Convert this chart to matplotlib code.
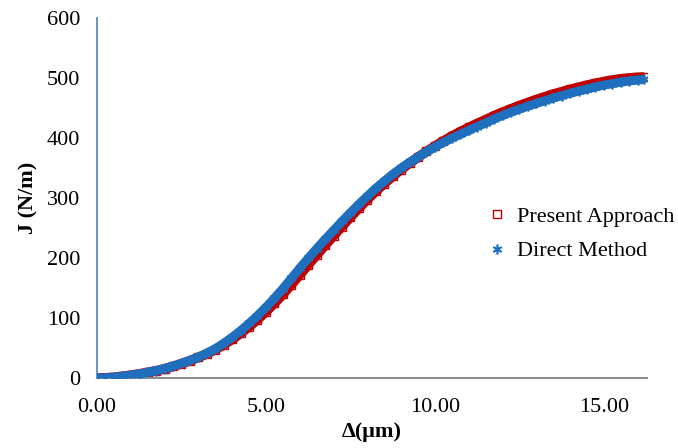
import matplotlib
matplotlib.use("Agg")
import matplotlib.pyplot as plt
import numpy as np

delta = [0.00, 0.25, 0.50, 0.75, 1.00, 1.25, 1.50, 1.75, 2.00, 2.25, 2.50, 2.75,
         3.00, 3.25, 3.50, 3.75, 4.00, 4.25, 4.50, 4.75, 5.00, 5.25, 5.50, 5.75,
         6.00, 6.25, 6.50, 6.75, 7.00, 7.25, 7.50, 7.75, 8.00, 8.25, 8.50, 8.75,
         9.00, 9.25, 9.50, 9.75, 10.00, 10.25, 10.50, 10.75, 11.00, 11.25, 11.50, 11.75,
         12.00, 12.25, 12.50, 12.75, 13.00, 13.25, 13.50, 13.75, 14.00, 14.25, 14.50, 14.75,
         15.00, 15.25, 15.50, 15.75, 16.00, 16.20]

j_present = [0, 0.4, 1.3, 2.8, 4.8, 7, 9.5, 12.3, 15.5, 19.5, 24, 29,
             34.5, 40.5, 47.5, 55.5, 64.5, 74.5, 85.5, 97.5, 110.5, 124.5, 139.5, 155.5,
             172, 188.5, 205, 221, 237, 252.5, 268, 283, 297.5, 311, 324, 336,
             347.5, 358, 368, 377.5, 386.5, 395, 403, 410.5, 417.5, 424, 430.5, 437,
             443, 448.5, 454, 459, 464, 468.5, 473, 477, 481, 484.5, 488, 491,
             494, 496.5, 498.5, 500, 501, 501.5]

j_direct = [0, 0.4, 1.3, 2.8, 4.8, 7, 9.5, 12.5, 16, 20, 24.5, 29.5,
            35, 41.5, 49, 58, 68, 79, 91, 104, 118, 133, 149, 166,
            183, 199.5, 215.5, 231, 246, 261, 275.5, 289.5, 303, 316, 328, 339.5,
            350, 359.5, 368.5, 377, 385, 392.5, 399.5, 406, 412.5, 419, 425, 431.5,
            437.5, 443, 448, 453, 457.5, 462, 466.5, 470.5, 474.5, 478, 481.5, 485,
            488, 490.5, 493, 495, 496.5, 497.5]

x_ticks = [0, 5, 10, 15]
x_tick_labels = ["0.00", "5.00", "10.00", "15.00"]
y_ticks = [0, 100, 200, 300, 400, 500, 600]

plt.rcParams['font.family'] = ['Liberation Serif', 'DejaVu Serif']

fig = plt.figure(figsize=(6.78, 4.48), dpi=100)
ax = fig.add_axes([0.143, 0.156, 0.811, 0.804])

red = '#C00000'
blue = '#1F6FBF'

ax.plot(delta, j_present, color=red, lw=7, solid_capstyle='butt', zorder=2)
ax.plot(delta, j_present, ls='none', marker='s', ms=6, mfc='none', mec=red, mew=1,
        zorder=2, label='Present Approach')
ax.plot(delta, j_direct, color=blue, lw=6.5, solid_capstyle='butt', zorder=3)
ax.plot(delta, j_direct, ls='none', marker=(6, 2, 0), ms=7, mec=blue, mew=1.2,
        zorder=3, label='Direct Method')

ax.set_xlim(0, 16.27)
ax.set_ylim(0, 600)
ax.set_xticks(x_ticks)
ax.set_xticklabels(x_tick_labels)
ax.set_yticks(y_ticks)
ax.tick_params(length=0, labelsize=16)
ax.tick_params(axis='x', pad=14)
ax.tick_params(axis='y', pad=12)

for s in ['top', 'right']:
    ax.spines[s].set_visible(False)
ax.spines['left'].set_color('#4F81BD')
ax.spines['left'].set_linewidth(1.2)
ax.spines['bottom'].set_color('#8C8C8C')
ax.spines['bottom'].set_linewidth(1.5)

ax.set_xlabel('Δ(μm)', fontsize=16, fontweight='bold', labelpad=4)
ax.set_ylabel('J (N/m)', fontsize=16, fontweight='bold', labelpad=6)

ax.legend(loc='center left', bbox_to_anchor=(0.707, 0.40), frameon=False,
          fontsize=16, handlelength=1.0, handletextpad=0.4, labelspacing=0.62,
          borderaxespad=0, borderpad=0)

fig.savefig('out.png', dpi=100)
